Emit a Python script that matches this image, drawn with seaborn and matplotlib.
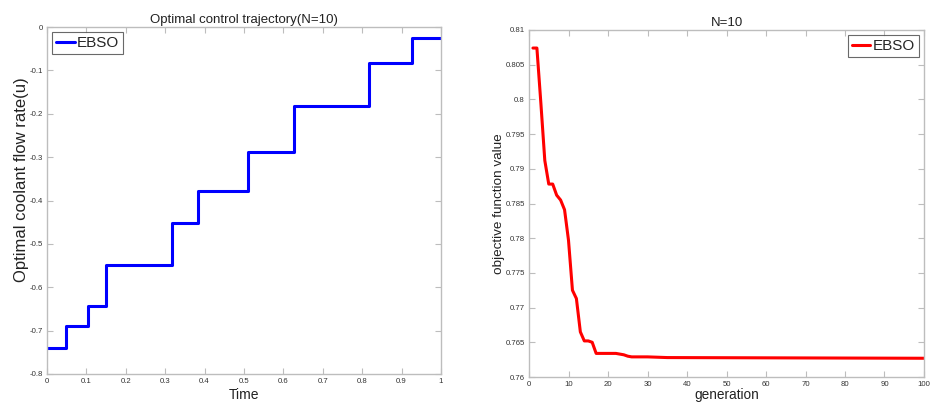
import matplotlib
matplotlib.use("Agg")
import matplotlib.pyplot as plt
import seaborn as sns
import pandas as pd

# Left chart: piecewise-constant control trajectory
switch_times = [0.0, 0.047, 0.103, 0.149, 0.317, 0.384, 0.509, 0.628, 0.818, 0.926, 1.0]
control_values = [-0.741, -0.689, -0.643, -0.549, -0.453, -0.378, -0.289, -0.182, -0.084, -0.025]
left_xticks = [0, 0.1, 0.2, 0.3, 0.4, 0.5, 0.6, 0.7, 0.8, 0.9, 1]
left_xticklabels = ["0", "0.1", "0.2", "0.3", "0.4", "0.5", "0.6", "0.7", "0.8", "0.9", "1"]
left_yticks = [-0.8, -0.7, -0.6, -0.5, -0.4, -0.3, -0.2, -0.1, 0]
left_yticklabels = ["-0.8", "-0.7", "-0.6", "-0.5", "-0.4", "-0.3", "-0.2", "-0.1", "0"]

# Right chart: convergence curve (breakpoints)
generations = [1, 2, 3, 4, 5, 6, 7, 8, 9, 10, 11, 12, 13, 14, 15, 16, 17, 22, 23, 24, 25, 26, 30, 35, 100]
objective = [0.8074, 0.8074, 0.7995, 0.7912, 0.7878, 0.7878, 0.7862, 0.7855, 0.7841, 0.7797,
             0.7725, 0.7713, 0.7665, 0.7652, 0.7652, 0.7650, 0.7634, 0.7634, 0.7633, 0.7632,
             0.7630, 0.7629, 0.7629, 0.7628, 0.7627]
right_xticks = [0, 10, 20, 30, 40, 50, 60, 70, 80, 90, 100]
right_yticks = [0.76, 0.765, 0.77, 0.775, 0.78, 0.785, 0.79, 0.795, 0.8, 0.805, 0.81]
right_yticklabels = ["0.76", "0.765", "0.77", "0.775", "0.78", "0.785", "0.79", "0.795", "0.8", "0.805", "0.81"]

sns.set_theme(style="white")
plt.rcParams['font.family'] = ['Liberation Sans', 'DejaVu Sans']

W, H = 934, 403
fig = plt.figure(figsize=(W / 100, H / 100), dpi=100)
ax1 = fig.add_axes([47 / W, 1 - 374 / H, (441 - 47) / W, (374 - 27) / H])
ax2 = fig.add_axes([529 / W, 1 - 377 / H, (924 - 529) / W, (377 - 30) / H])

df_left = pd.DataFrame({"Time": switch_times,
                        "u": control_values + [control_values[-1]]})
df_right = pd.DataFrame({"generation": generations, "obj": objective})

sns.lineplot(data=df_left, x="Time", y="u", ax=ax1, color="#0000FF", linewidth=2.2,
             drawstyle="steps-post", label="EBSO")
sns.lineplot(data=df_right, x="generation", y="obj", ax=ax2, color="#FF0000", linewidth=2.2,
             label="EBSO")

spine_col = "#BDBDBD"
tick_col = "#333333"
for ax in (ax1, ax2):
    for s in ax.spines.values():
        s.set_color(spine_col)
        s.set_linewidth(1.0)
    ax.tick_params(direction="in", length=4, width=0.8, color=spine_col,
                   labelsize=5.6, labelcolor=tick_col, top=True, right=True,
                   bottom=True, left=True, pad=3)

ax1.set_xlim(0, 1)
ax1.set_ylim(-0.8, 0)
ax1.set_xticks(left_xticks)
ax1.set_xticklabels(left_xticklabels)
ax1.set_yticks(left_yticks)
ax1.set_yticklabels(left_yticklabels)
ax1.set_xlabel("Time", fontsize=10, labelpad=2, color="#222222")
ax1.set_ylabel("Optimal coolant flow rate(u)", fontsize=12, color="#222222")
ax1.yaxis.set_label_coords(-0.045, 0.56)
ax1.set_title("Optimal control trajectory(N=10)", fontsize=9.5, pad=3, color="#222222")
leg1 = ax1.legend(loc="upper left", fontsize=11, frameon=True, fancybox=False,
                  handlelength=1.2, handletextpad=0.15, borderpad=0.25,
                  borderaxespad=0.35)
leg1.get_frame().set_edgecolor("#444444")
leg1.get_frame().set_linewidth(0.8)

ax2.set_xlim(0, 100)
ax2.set_ylim(0.76, 0.81)
ax2.set_xticks(right_xticks)
ax2.set_yticks(right_yticks)
ax2.set_yticklabels(right_yticklabels)
ax2.set_xlabel("generation", fontsize=9.8, labelpad=0, color="#222222")
ax2.set_ylabel("objective function value", fontsize=9.7, labelpad=0, color="#222222")
ax2.set_title("N=10", fontsize=9.5, pad=3, color="#222222")
leg2 = ax2.legend(loc="upper right", fontsize=11, frameon=True, fancybox=False,
                  handlelength=1.2, handletextpad=0.15, borderpad=0.25,
                  borderaxespad=0.35)
leg2.get_frame().set_edgecolor("#444444")
leg2.get_frame().set_linewidth(0.8)

fig.savefig("out.png", dpi=100)
